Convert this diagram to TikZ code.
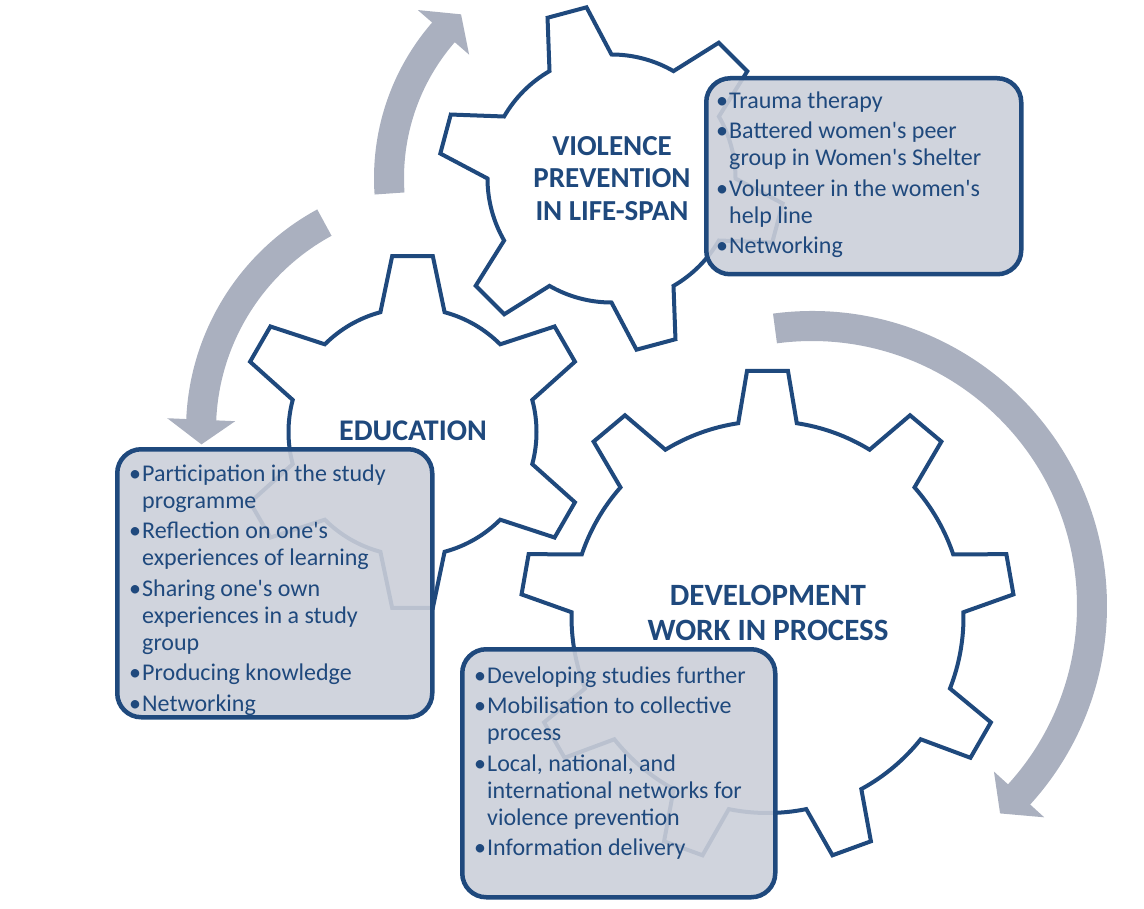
\documentclass[tikz,border=0pt]{standalone}
\usepackage{fontspec}
\setmainfont{Carlito}
\usepackage{tikz}
\usetikzlibrary{positioning}

\definecolor{gearblue}{RGB}{31,73,125}
\definecolor{arrowgray}{RGB}{170,176,191}
\definecolor{boxgray}{RGB}{203,207,217}

% center, teeth, outer r, inner r, phase, tip half angle, root half angle
\newcommand{\gearwheel}[7]{%
  \begin{scope}[shift={(#1)}, yscale=-1]
    \draw[gearline] ({#5-#7}:#4)
      \foreach \k [evaluate=\k as \a using #5+(\k-1)*360/#2] in {1,...,#2}{
        -- ({\a-#6}:#3) -- ({\a+#6}:#3) -- ({\a+#7}:#4)
        arc[start angle={\a+#7}, end angle={\a+360/#2-#7}, radius=#4]
      } -- cycle;
  \end{scope}}
% center, radius, tail angle, head angle, tip angle
\newcommand{\bentarrow}[5]{%
  \begin{scope}[shift={(#1)}, yscale=-1]
    \fill[arrowfill] ({#3}:{#2+15}) arc[start angle=#3, end angle=#4, radius=#2+15]
      -- ({#4}:{#2+34}) -- ({#5}:{#2}) -- ({#4}:{#2-34}) -- ({#4}:{#2-15})
      arc[start angle=#4, end angle=#3, radius=#2-15] -- cycle;
  \end{scope}}
\newcommand{\bul}{\makebox[14pt][c]{\textbullet}}
\newcommand{\hang}{\hspace*{14pt}}
\newcommand{\apos}{\textquotesingle}

\begin{document}
\begin{tikzpicture}
[x=1pt, y=-1pt,
gearline/.style={draw=gearblue, line width=4pt, fill=white, line join=miter},
arrowfill/.style={fill=arrowgray},
infobox/.style={draw=gearblue, line width=4.5pt, fill=boxgray, fill opacity=0.9,
                rounded corners=24pt, inner sep=0pt, anchor=north west},
listtext/.style={text=gearblue, align=left, inner sep=0pt,
                 font=\fontsize{24}{27}\selectfont},
gearhead/.style={text=gearblue, align=center, inner sep=0pt,
                 font=\bfseries\fontsize{29}{32.5}\selectfont}
]
    \useasboundingbox (0,0) rectangle (1144,909);

    \bentarrow{611,178}{222}{184}{139}{132.5}
    \bentarrow{437,430}{236}{118.5}{177.5}{183.5}
    \bentarrow{812,606}{280}{97.6}{-42.3}{-47.8}

    \gearwheel{611.5,178.5}{6}{173}{124}{45}{6.7}{15}
    \gearwheel{412.5,432}{6}{177}{124}{90}{6.6}{15}
    \gearwheel{767.5,617}{9}{247}{196}{90}{4.75}{8.6}

    \node[infobox, minimum width=315pt, minimum height=196pt] (vpbox) at (704,76) {};
    \node[infobox, minimum width=315pt, minimum height=268pt] (edbox) at (115,447) {};
    \node[infobox, minimum width=313pt, minimum height=248pt] (dwbox) at (460,647) {};

    \node[listtext, below right=13pt and 11pt of vpbox.north west] (vplist)
    {\strut\bul Trauma therapy\\[3.5pt]
     \bul Battered women\apos s peer\\
     \hang group in Women\apos s Shelter\\[3.5pt]
     \bul Volunteer in the women\apos s\\
     \hang help line\\[3.5pt]
     \bul Networking};
    \node[listtext, below right=15pt and 13pt of edbox.north west] (edlist)
    {\strut\bul Participation in the study\\
     \hang programme\\[3.5pt]
     \bul Reflection on one\apos s\\
     \hang experiences of learning\\[3.5pt]
     \bul Sharing one\apos s own\\
     \hang experiences in a study\\
     \hang group\\[3.5pt]
     \bul Producing knowledge\\[3.5pt]
     \bul Networking};
    \node[listtext, below right=17pt and 13pt of dwbox.north west] (dwlist)
    {\strut\bul Developing studies further\\[3.5pt]
     \bul Mobilisation to collective\\
     \hang process\\[3.5pt]
     \bul Local, national, and\\
     \hang international networks for\\
     \hang violence prevention\\[3.5pt]
     \bul Information delivery};

    \node[gearhead] (vptitle) at (612,178.5) {VIOLENCE\\PREVENTION\\IN LIFE-SPAN};
    \node[gearhead, font=\bfseries\fontsize{30}{33}\selectfont] (edtitle) at (413,431) {EDUCATION};
    \node[gearhead, font=\bfseries\fontsize{31}{35}\selectfont] (dwtitle) at (768,612.5)
    {DEVELOPMENT\\WORK IN PROCESS};
\end{tikzpicture}
\end{document}
